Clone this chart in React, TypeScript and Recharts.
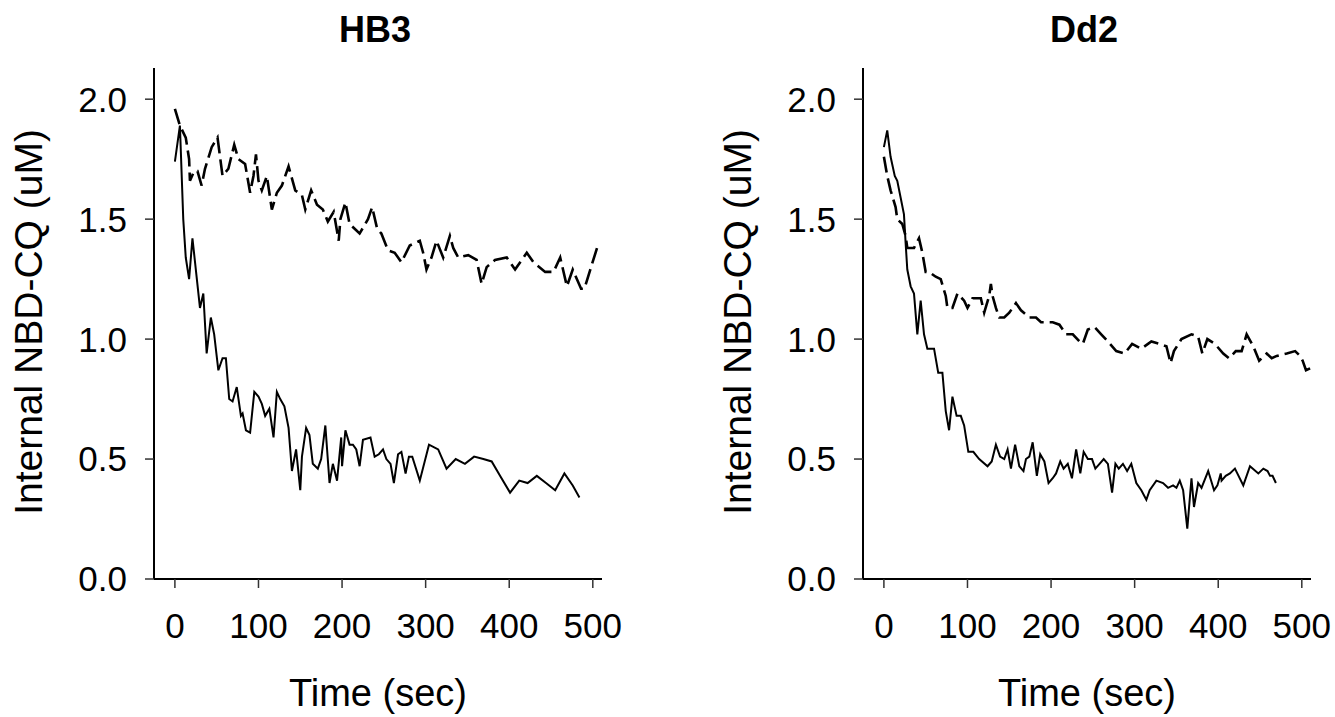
import { Label, Line, LineChart, XAxis, YAxis } from "recharts";

const X_TICKS = [0, 100, 200, 300, 400, 500];
const Y_TICKS = [0, 0.5, 1.0, 1.5, 2.0];

// HB3, solid trace
const hb3SolidTime = [0, 6, 10, 13, 17, 21, 30, 34, 38, 43, 47, 52, 57, 61, 65, 69, 74, 79, 81, 85, 90, 95, 100, 104, 108, 113, 118, 122, 126, 131, 136, 140, 145, 150, 152, 157, 161, 165, 171, 175, 180, 185, 189, 194, 199, 200, 204, 209, 213, 217, 221, 225, 234, 239, 244, 249, 253, 258, 262, 267, 271, 276, 280, 284, 293, 304, 315, 325, 336, 347, 358, 369, 379, 389, 401, 412, 422, 433, 444, 455, 466, 476, 484];
const hb3SolidValue = [1.74, 1.89, 1.5, 1.34, 1.25, 1.42, 1.13, 1.19, 0.94, 1.09, 1.02, 0.87, 0.92, 0.92, 0.75, 0.74, 0.8, 0.68, 0.69, 0.62, 0.61, 0.78, 0.76, 0.73, 0.68, 0.71, 0.59, 0.78, 0.75, 0.72, 0.63, 0.45, 0.54, 0.37, 0.51, 0.63, 0.6, 0.48, 0.46, 0.5, 0.64, 0.4, 0.48, 0.41, 0.59, 0.47, 0.62, 0.56, 0.56, 0.54, 0.47, 0.58, 0.59, 0.51, 0.52, 0.54, 0.5, 0.48, 0.4, 0.52, 0.53, 0.44, 0.51, 0.51, 0.41, 0.56, 0.54, 0.46, 0.5, 0.48, 0.51, 0.5, 0.49, 0.43, 0.36, 0.41, 0.4, 0.43, 0.4, 0.37, 0.44, 0.39, 0.34];

// HB3, dashed trace
const hb3DashTime = [0, 6, 13, 17, 18, 23, 27, 32, 36, 44, 51, 57, 64, 71, 76, 84, 90, 94, 97, 100, 104, 110, 116, 122, 128, 136, 144, 152, 156, 163, 170, 177, 183, 190, 196, 198, 204, 209, 221, 231, 236, 242, 247, 255, 263, 271, 281, 293, 297, 301, 307, 313, 321, 329, 333, 339, 351, 361, 367, 373, 383, 397, 407, 421, 429, 443, 453, 461, 469, 476, 486, 490, 497, 506];
const hb3DashValue = [1.96, 1.89, 1.84, 1.75, 1.66, 1.7, 1.7, 1.64, 1.71, 1.8, 1.84, 1.68, 1.71, 1.81, 1.75, 1.73, 1.61, 1.68, 1.77, 1.66, 1.62, 1.68, 1.54, 1.61, 1.64, 1.72, 1.62, 1.6, 1.54, 1.62, 1.56, 1.54, 1.49, 1.53, 1.41, 1.5, 1.57, 1.48, 1.44, 1.5, 1.55, 1.46, 1.44, 1.37, 1.36, 1.32, 1.39, 1.41, 1.36, 1.29, 1.34, 1.41, 1.34, 1.43, 1.38, 1.34, 1.35, 1.33, 1.23, 1.3, 1.33, 1.34, 1.29, 1.36, 1.32, 1.28, 1.28, 1.34, 1.22, 1.29, 1.21, 1.21, 1.29, 1.39];

// Dd2, solid trace
const dd2SolidTime = [0, 4, 8, 13, 16, 20, 24, 26, 28, 32, 36, 40, 44, 48, 52, 60, 65, 70, 74, 78, 82, 87, 92, 96, 101, 107, 114, 124, 129, 134, 139, 144, 148, 152, 157, 162, 167, 170, 174, 178, 183, 187, 192, 197, 202, 206, 211, 215, 220, 225, 230, 235, 239, 244, 249, 253, 258, 263, 268, 273, 277, 281, 286, 291, 296, 302, 308, 314, 318, 326, 334, 340, 346, 350, 354, 358, 363, 368, 371, 376, 380, 388, 395, 399, 403, 404, 409, 414, 420, 430, 438, 448, 454, 459, 462, 465, 469];
const dd2SolidValue = [1.8, 1.87, 1.76, 1.68, 1.66, 1.59, 1.52, 1.4, 1.29, 1.22, 1.19, 1.02, 1.16, 1.02, 0.96, 0.96, 0.86, 0.86, 0.7, 0.62, 0.76, 0.68, 0.68, 0.64, 0.53, 0.53, 0.5, 0.47, 0.49, 0.56, 0.51, 0.5, 0.54, 0.46, 0.56, 0.47, 0.45, 0.5, 0.51, 0.57, 0.43, 0.52, 0.49, 0.4, 0.42, 0.44, 0.49, 0.46, 0.48, 0.42, 0.54, 0.44, 0.53, 0.5, 0.5, 0.46, 0.48, 0.5, 0.48, 0.36, 0.48, 0.46, 0.48, 0.45, 0.48, 0.4, 0.37, 0.33, 0.37, 0.41, 0.4, 0.38, 0.39, 0.38, 0.41, 0.37, 0.21, 0.42, 0.3, 0.4, 0.38, 0.45, 0.37, 0.39, 0.44, 0.41, 0.43, 0.44, 0.46, 0.39, 0.47, 0.44, 0.46, 0.45, 0.43, 0.43, 0.4];

// Dd2, dashed trace
const dd2DashTime = [0, 4, 8, 14, 16, 22, 26, 28, 36, 42, 46, 50, 54, 62, 68, 74, 76, 82, 88, 96, 100, 106, 112, 116, 120, 126, 128, 130, 134, 138, 144, 150, 158, 164, 174, 182, 188, 194, 202, 210, 218, 226, 234, 238, 244, 252, 260, 268, 278, 288, 297, 308, 320, 330, 338, 343, 347, 356, 368, 376, 381, 387, 396, 406, 413, 421, 428, 434, 442, 449, 458, 464, 470, 482, 492, 498, 501, 505, 511];
const dd2DashValue = [1.76, 1.68, 1.62, 1.55, 1.5, 1.48, 1.43, 1.38, 1.38, 1.42, 1.36, 1.28, 1.28, 1.26, 1.25, 1.18, 1.13, 1.13, 1.19, 1.16, 1.13, 1.17, 1.17, 1.17, 1.11, 1.18, 1.23, 1.18, 1.13, 1.09, 1.09, 1.11, 1.15, 1.12, 1.09, 1.09, 1.07, 1.07, 1.07, 1.06, 1.02, 1.02, 0.99, 0.98, 1.04, 1.05, 1.02, 0.99, 0.95, 0.94, 0.98, 0.96, 0.99, 0.98, 0.97, 0.9, 0.95, 1.0, 1.02, 1.01, 0.94, 1.0, 0.98, 0.94, 0.92, 0.95, 0.95, 1.02, 0.97, 0.91, 0.94, 0.92, 0.93, 0.94, 0.95, 0.93, 0.91, 0.87, 0.88];

const FONT = '"Liberation Sans", Arial, sans-serif';
const CHART_W = 660;
const CHART_H = 717;
const Y_AXIS_W = 154;
const X_AXIS_H = 138;

const zip = (t: number[], v: number[]) => t.map((time, i) => ({ time, value: v[i] }));

function Panel({ title, left, solid, dashed }: {
  title: string;
  left: number;
  solid: { time: number; value: number }[];
  dashed: { time: number; value: number }[];
}) {
  const plotCenter = Y_AXIS_W + (CHART_W - 58 - Y_AXIS_W) / 2;
  return (
    <div style={{ position: "absolute", left, top: 0, width: CHART_W, height: CHART_H }}>
      <div style={{
        position: "absolute", left: plotCenter - 150 - 3, width: 300, top: 12,
        textAlign: "center", fontFamily: FONT, fontWeight: "bold", fontSize: 36, lineHeight: 1,
      }}>{title}</div>
      <LineChart width={CHART_W} height={CHART_H} margin={{ top: 68, right: 58, bottom: 0, left: 0 }}>
        <XAxis
          type="number"
          dataKey="time"
          domain={[-25, 511]}
          ticks={X_TICKS}
          allowDataOverflow
          height={X_AXIS_H}
          tickSize={9}
          tickMargin={25}
          axisLine={{ stroke: "#000", strokeWidth: 2 }}
          tickLine={{ stroke: "#333", strokeWidth: 1.5 }}
          tick={{ fontSize: 35, fill: "#000", fontFamily: FONT }}
        >
          <Label content={(p: any) => {
            const vb = p.viewBox;
            return (
              <text x={vb.x + vb.width / 2} y={706} textAnchor="middle" fontSize={38} fontFamily={FONT} fill="#000">
                Time (sec)
              </text>
            );
          }} />
        </XAxis>
        <YAxis
          type="number"
          domain={[0, 2.13]}
          ticks={Y_TICKS}
          allowDataOverflow
          width={Y_AXIS_W}
          tickSize={9}
          tickMargin={18}
          tickFormatter={(v: number) => v.toFixed(1)}
          axisLine={{ stroke: "#000", strokeWidth: 2 }}
          tickLine={{ stroke: "#333", strokeWidth: 1.5 }}
          tick={{ fontSize: 35, fill: "#000", fontFamily: FONT }}
        >
          <Label content={() => (
            <text x={42} y={322} transform="rotate(-90 42 322)" textAnchor="middle" fontSize={39} fontFamily={FONT} fill="#000">
              Internal NBD-CQ (uM)
            </text>
          )} />
        </YAxis>
        <Line data={dashed} dataKey="value" type="linear" stroke="#000" strokeWidth={2.6}
          strokeDasharray="16 6" dot={false} isAnimationActive={false} />
        <Line data={solid} dataKey="value" type="linear" stroke="#000" strokeWidth={2}
          dot={false} isAnimationActive={false} />
      </LineChart>
    </div>
  );
}

export default function App() {
  return (
    <div style={{ position: "absolute", left: 0, top: 0, width: 1335, height: 717, background: "#fff" }}>
      <Panel title="HB3" left={0} solid={zip(hb3SolidTime, hb3SolidValue)} dashed={zip(hb3DashTime, hb3DashValue)} />
      <Panel title="Dd2" left={709} solid={zip(dd2SolidTime, dd2SolidValue)} dashed={zip(dd2DashTime, dd2DashValue)} />
    </div>
  );
}
